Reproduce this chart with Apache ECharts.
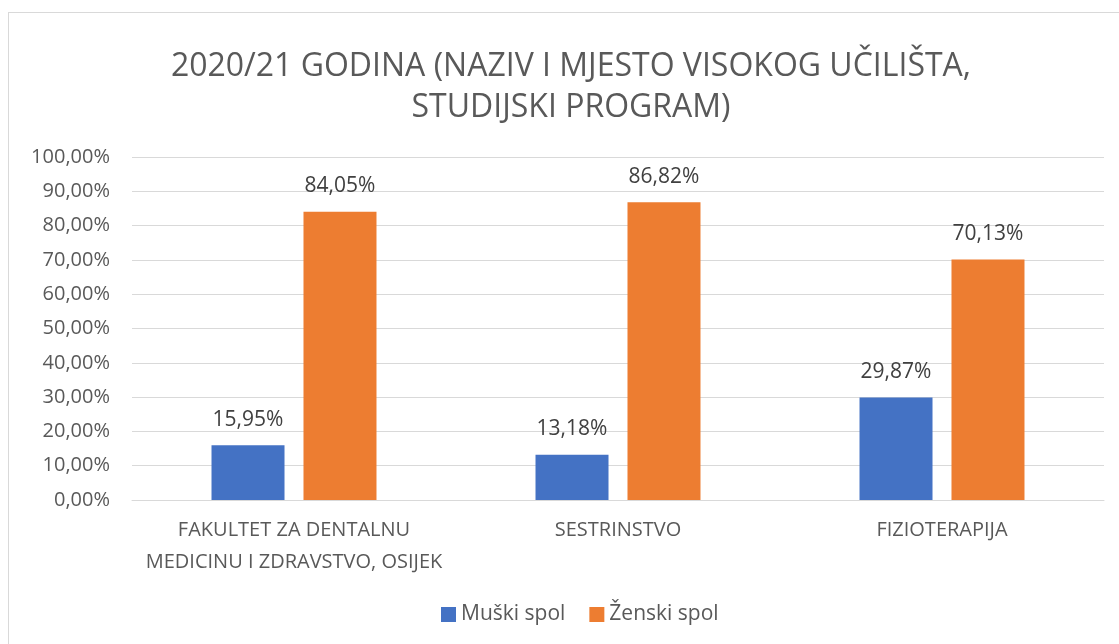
<!DOCTYPE html>
<html>
<head>
<meta charset="utf-8">
<script src="https://cdn.jsdelivr.net/npm/echarts@6/dist/echarts.min.js"></script>
<style>
  html, body { margin: 0; padding: 0; background: #fff; overflow: hidden; }
  #frame { position: absolute; left: 8px; top: 12px; width: 1130px; height: 650px; border: 1px solid #d9d9d9; box-sizing: border-box; }
  #chart { position: absolute; left: 0; top: 0; width: 1119px; height: 644px; }
</style>
</head>
<body>
<div id="frame"></div>
<div id="chart"></div>
<script>
// podaci
var categories = ['FAKULTET ZA DENTALNU\nMEDICINU I ZDRAVSTVO, OSIJEK', 'SESTRINSTVO', 'FIZIOTERAPIJA'];
var muski = [15.95, 13.18, 29.87];
var zenski = [84.05, 86.82, 70.13];
var seriesNames = ['Muški spol', 'Ženski spol'];

function pct(v) {
	return v.toFixed(2).replace('.', ',') + '%';
}

var font = 'Open Sans';
var myChart = echarts.init(document.getElementById('chart'));
var option = {
	animation: false,
	title: {
		text: '2020/21 GODINA (NAZIV I MJESTO VISOKOG UČILIŠTA,\nSTUDIJSKI PROGRAM)',
		left: 566,
		textAlign: 'center',
		top: 41,
		textStyle: {
			fontFamily: font,
			fontSize: 32,
			fontWeight: 'normal',
			color: '#595959',
			lineHeight: 41
		}
	},
	legend: {
		data: seriesNames,
		bottom: 14,
		left: 436,
		itemWidth: 15,
		itemHeight: 15,
		itemGap: 24,
		icon: 'rect',
		textStyle: { fontFamily: font, fontSize: 21, color: '#595959' }
	},
	grid: {
		left: 132,
		right: 15,
		top: 157,
		bottom: 144,
		containLabel: false
	},
	xAxis: [{
		type: 'category',
		data: categories,
		axisLine: { lineStyle: { color: '#d9d9d9' } },
		axisTick: { show: false },
		axisLabel: {
			interval: 0,
			margin: 14,
			fontFamily: font,
			fontSize: 20,
			color: '#595959',
			lineHeight: 32
		}
	}],
	yAxis: [{
		type: 'value',
		min: 0,
		max: 100,
		interval: 10,
		axisLabel: {
			margin: 22,
			fontFamily: font,
			fontSize: 20,
			color: '#595959',
			formatter: pct
		},
		splitLine: { lineStyle: { color: '#d9d9d9' } }
	}],
	series: [{
		name: seriesNames[0],
		type: 'bar',
		data: muski,
		barWidth: 73,
		barGap: '26%',
		itemStyle: { color: '#4472c4' },
		label: {
			show: true,
			position: 'top',
			distance: 15,
			fontFamily: font,
			fontSize: 21,
			color: '#404040',
			formatter: function (p) { return pct(p.value); }
		}
	}, {
		name: seriesNames[1],
		type: 'bar',
		data: zenski,
		barWidth: 73,
		itemStyle: { color: '#ed7d31' },
		label: {
			show: true,
			position: 'top',
			distance: 15,
			fontFamily: font,
			fontSize: 21,
			color: '#404040',
			formatter: function (p) { return pct(p.value); }
		}
	}]
};
myChart.setOption(option);
</script>
</body>
</html>
